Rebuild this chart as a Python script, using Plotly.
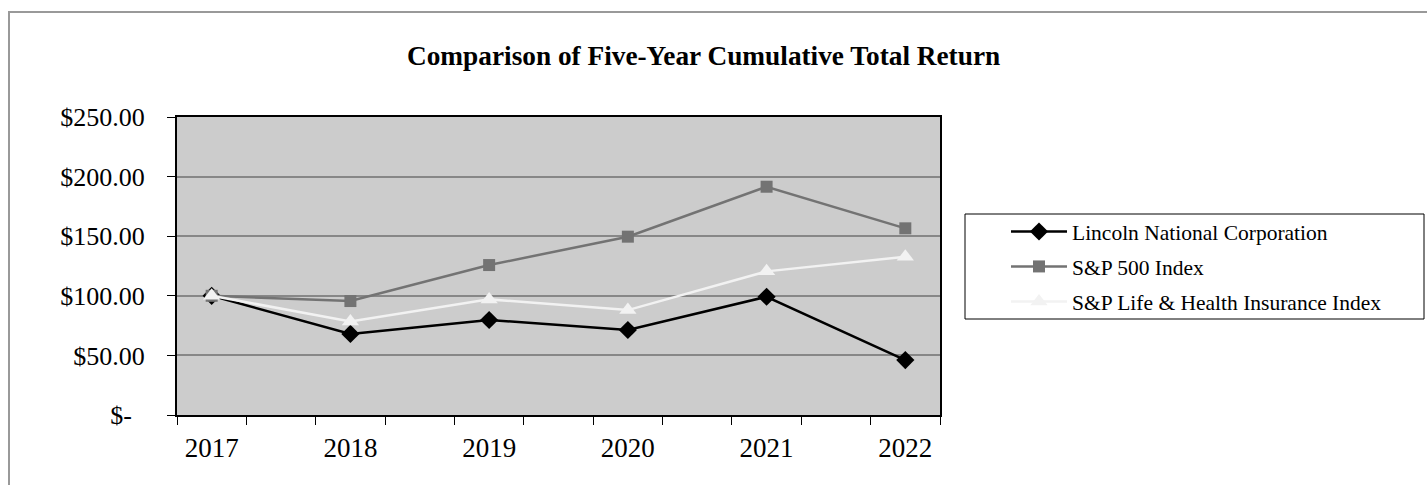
import plotly.graph_objects as go

# ---- data ----
years = [2017, 2018, 2019, 2020, 2021, 2022]
lincoln = [100.0, 68.0, 79.7, 71.3, 99.2, 46.1]
sp500 = [100.0, 95.6, 125.8, 149.6, 191.5, 156.6]
life_health = [100.0, 78.5, 97.0, 88.0, 120.5, 132.8]
series_names = ["Lincoln National Corporation", "S&P 500 Index",
                "S&P Life & Health Insurance Index"]
y_tickvals = [0, 50, 100, 150, 200, 250]
y_ticktext = ["$-\u00a0\u00a0", "$50.00", "$100.00", "$150.00", "$200.00", "$250.00"]
title_text = "Comparison of Five-Year Cumulative Total Return"

# ---- layout geometry (pixels) ----
W, H = 1427, 485
L, R, T, B = 177, 1427 - 940, 117, 485 - 415
PW, PH = W - L - R, H - T - B


def px(x):
    return (x - L) / PW


def py(y):
    return (H - B - y) / PH


FONT = "Liberation Serif"

fig = go.Figure()
fig.add_trace(go.Scatter(
    x=years, y=lincoln, name=series_names[0], mode="lines+markers",
    line=dict(color="#000000", width=2.5),
    marker=dict(symbol="diamond", size=14, color="#000000"),
    legendgroup="a"))
fig.add_trace(go.Scatter(
    x=years, y=sp500, name=series_names[1], mode="lines+markers",
    line=dict(color="#737373", width=2.5),
    marker=dict(symbol="square", size=12, color="#737373"),
    legendgroup="b"))
fig.add_trace(go.Scatter(
    x=years, y=life_health, name=series_names[2], mode="lines+markers",
    line=dict(color="#f2f2f2", width=2.5),
    marker=dict(symbol="triangle-up", size=15, color="#f2f2f2"),
    legendgroup="c"))

fig.update_layout(
    width=W, height=H,
    margin=dict(l=L, r=R, t=T, b=B, pad=0),
    paper_bgcolor="#ffffff",
    plot_bgcolor="#cccccc",
    font=dict(family=FONT, size=26, color="#000000"),
    showlegend=True,
    legend=dict(
        x=px(1006), y=py(211), xanchor="left", yanchor="top",
        bgcolor="rgba(0,0,0,0)", borderwidth=0,
        font=dict(family=FONT, size=21.5, color="#000000"),
        traceorder="grouped", tracegroupgap=4, itemwidth=56,
    ),
    xaxis=dict(
        range=[2016.75, 2022.25], tickmode="array", tickvals=years,
        ticktext=[str(y) for y in years], ticks="", showgrid=False,
        zeroline=False, showline=True, linecolor="#000000", linewidth=2,
        mirror=True, ticklabelstandoff=8,
        tickfont=dict(family=FONT, size=27),
        minor=dict(tickmode="linear", tick0=2016.75, dtick=0.5,
                   ticks="outside", ticklen=8, tickwidth=1,
                   tickcolor="#000000", showgrid=False),
    ),
    yaxis=dict(
        range=[0, 250], tickmode="array", tickvals=y_tickvals,
        ticktext=y_ticktext, ticks="outside", ticklen=8, tickwidth=1,
        tickcolor="#000000", showgrid=True, gridcolor="#878787", gridwidth=2,
        zeroline=False, showline=True, linecolor="#000000", linewidth=2,
        mirror=True, ticklabelstandoff=17,
        tickfont=dict(family=FONT, size=26),
    ),
    annotations=[dict(
        text="<b>" + title_text + "</b>", x=px(703), y=py(56),
        xref="paper", yref="paper", xanchor="center", yanchor="middle",
        showarrow=False, font=dict(family=FONT, size=27.3, color="#000000"))],
    shapes=[
        # legend box
        dict(type="rect", xref="paper", yref="paper",
             x0=px(965), x1=px(1424), y0=py(319), y1=py(214),
             line=dict(color="#000000", width=1), fillcolor="rgba(0,0,0,0)"),
        # outer chart frame (extends beyond the visible area)
        dict(type="rect", xref="paper", yref="paper",
             x0=px(9), x1=px(1440), y0=py(500), y1=py(12),
             line=dict(color="#999999", width=2), fillcolor="rgba(0,0,0,0)",
             layer="below"),
    ],
)

fig.write_html("out.html", config={"displayModeBar": False},
               post_script="document.body.style.margin='0px';")
